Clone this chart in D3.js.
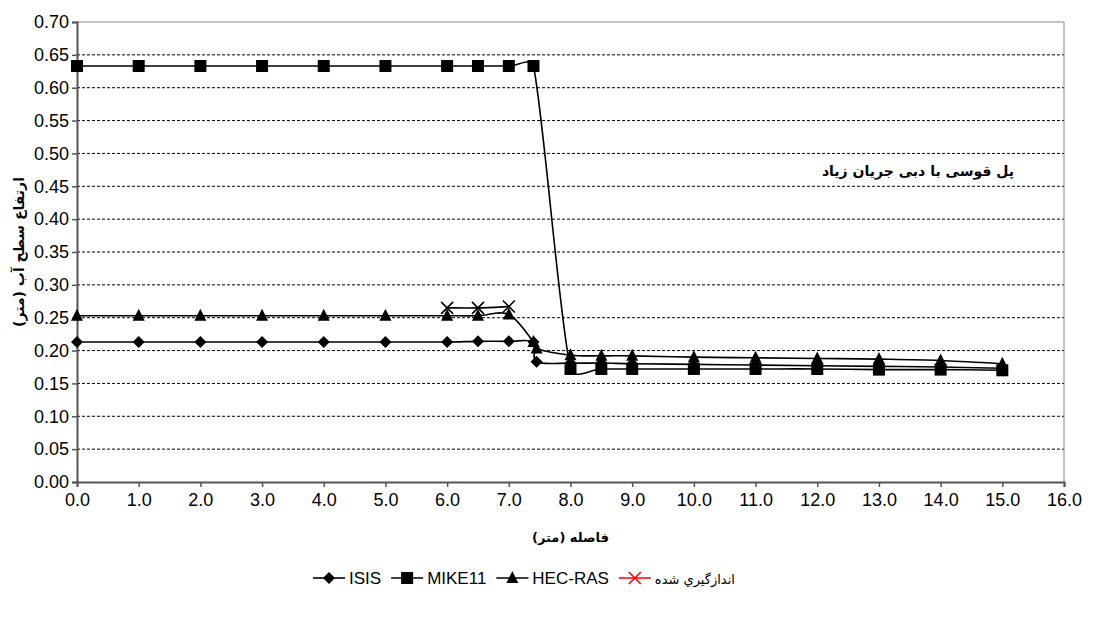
<!DOCTYPE html>
<html><head><meta charset="utf-8">
<script src="https://cdn.jsdelivr.net/npm/d3@7"></script>
<style>body{margin:0;background:#fff}</style>
</head><body>
<script>
const isisX = [0,1,2,3,4,5,6,6.5,7,7.4,7.45,8,8.5,9,10,11,12,13,14,15];
const isisY = [0.213,0.213,0.213,0.213,0.213,0.213,0.213,0.214,0.214,0.213,0.183,0.181,0.181,0.180,0.179,0.178,0.177,0.176,0.175,0.173];
const mikeX = [0,1,2,3,4,5,6,6.5,7,7.4,8,8.5,9,10,11,12,13,14,15];
const mikeY = [0.633,0.633,0.633,0.633,0.633,0.633,0.633,0.633,0.633,0.633,0.172,0.172,0.172,0.172,0.172,0.172,0.171,0.171,0.170];
const hecX = [0,1,2,3,4,5,6,6.5,7,7.4,7.45,8,8.5,9,10,11,12,13,14,15];
const hecY = [0.253,0.253,0.253,0.253,0.253,0.253,0.253,0.253,0.255,0.213,0.203,0.193,0.192,0.192,0.190,0.189,0.188,0.187,0.185,0.180];
const measX = [6,6.5,7];
const measY = [0.265,0.265,0.267];
const seriesNames = ["ISIS","MIKE11","HEC-RAS","اندازگيري شده"];
const xTicks = d3.range(0,16.01,1);
const yTicks = d3.range(0,0.7001,0.05);
const xTitle = "فاصله (متر)";
const yTitle = "ارتفاع سطح آب (متر)";
const note = "پل قوسی با دبی جریان زیاد";

const W=1093,H=619, L=77,R=1064,T=22,B=482;
const svg=d3.select("body").append("svg").attr("width",W).attr("height",H);
const x=d3.scaleLinear().domain([0,16]).range([L,R]);
const y=d3.scaleLinear().domain([0,0.7]).range([B,T]);
const latin="'Liberation Sans', Arial, sans-serif";
const pers="'DejaVu Sans', sans-serif";

svg.append("g").selectAll("line").data(yTicks.filter(v=>v>0.001&&v<0.699)).join("line")
 .attr("x1",L).attr("x2",R).attr("y1",d=>y(d)).attr("y2",d=>y(d))
 .attr("stroke","#000").attr("stroke-width",1).attr("stroke-dasharray","3,2");
svg.append("line").attr("x1",L).attr("x2",R).attr("y1",T).attr("y2",T).attr("stroke","#888");
svg.append("line").attr("x1",R).attr("x2",R).attr("y1",T).attr("y2",B).attr("stroke","#888");

const ya=svg.append("g").attr("transform",`translate(${L},0)`)
 .call(d3.axisLeft(y).tickValues(yTicks).tickFormat(d3.format(".2f")).tickSize(5).tickPadding(3));
const xa=svg.append("g").attr("transform",`translate(0,${B})`)
 .call(d3.axisBottom(x).tickValues(xTicks).tickFormat(d3.format(".1f")).tickSize(5).tickPadding(6));
[ya,xa].forEach(a=>{a.select(".domain").attr("stroke","#555").attr("stroke-width",2);
 a.selectAll(".tick line").attr("stroke","#555").attr("stroke-width",1.5);
 a.selectAll("text").attr("font-family",latin).attr("font-size",18).attr("fill","#000");});

function smooth(pts){
 const P=pts.map(p=>[x(p[0]),y(p[1])]);
 const path=d3.path(); path.moveTo(P[0][0],P[0][1]);
 const clamp=(v,len)=>{const l=Math.hypot(v[0],v[1]),m=len*0.4;return l>m&&l>0?[v[0]*m/l,v[1]*m/l]:v;};
 for(let i=0;i<P.length-1;i++){
  const p0=P[Math.max(i-1,0)],p1=P[i],p2=P[i+1],p3=P[Math.min(i+2,P.length-1)];
  const len=Math.hypot(p2[0]-p1[0],p2[1]-p1[1]);
  const t1=clamp([(p2[0]-p0[0])/6,(p2[1]-p0[1])/6],len);
  const t2=clamp([(p3[0]-p1[0])/6,(p3[1]-p1[1])/6],len);
  path.bezierCurveTo(p1[0]+t1[0],p1[1]+t1[1],p2[0]-t2[0],p2[1]-t2[1],p2[0],p2[1]);
 }
 return path.toString();
}
const zip=(a,b)=>a.map((v,i)=>[v,b[i]]);
const series=[
 {pts:zip(isisX,isisY),m:"diamond"},
 {pts:zip(mikeX,mikeY),m:"square"},
 {pts:zip(hecX,hecY),m:"triangle"},
 {pts:zip(measX,measY),m:"x"}];
series.forEach(s=>svg.append("path").attr("d",smooth(s.pts)).attr("fill","none").attr("stroke","#000").attr("stroke-width",1.6));

function marker(g,type,cx,cy,color){
 if(type==="diamond") g.append("path").attr("d",`M${cx},${cy-6}L${cx+6},${cy}L${cx},${cy+6}L${cx-6},${cy}Z`).attr("fill",color);
 else if(type==="square") g.append("rect").attr("x",cx-6).attr("y",cy-6).attr("width",12).attr("height",12).attr("fill",color);
 else if(type==="triangle") g.append("path").attr("d",`M${cx},${cy-7}L${cx+6},${cy+5}L${cx-6},${cy+5}Z`).attr("fill",color);
 else g.append("path").attr("d",`M${cx-6},${cy-6}L${cx+6},${cy+6}M${cx+6},${cy-6}L${cx-6},${cy+6}`).attr("stroke",color).attr("stroke-width",1.6);
}
const mg=svg.append("g");
series.forEach(s=>s.pts.forEach(p=>marker(mg,s.m,x(p[0]),y(p[1]),"#000")));

svg.append("text").attr("x",918).attr("y",176).attr("text-anchor","middle").attr("font-family",pers)
 .attr("font-weight","bold").attr("font-size",14).attr("direction","rtl").text(note);
svg.append("text").attr("x",(L+R)/2).attr("y",542).attr("text-anchor","middle").attr("font-family",pers)
 .attr("font-weight","bold").attr("font-size",13).attr("direction","rtl").text(xTitle);
svg.append("text").attr("transform",`translate(24,${(T+B)/2}) rotate(-90)`).attr("text-anchor","middle").attr("font-family",pers)
 .attr("font-weight","bold").attr("font-size",14).attr("direction","rtl").text(yTitle);

const lg=svg.append("g");
let lx=313; const ly=578;
const mtypes=["diamond","square","triangle","x"];
seriesNames.forEach((n,i)=>{
 const col=i===3?"#f00":"#000";
 lg.append("line").attr("x1",lx).attr("x2",lx+32).attr("y1",ly).attr("y2",ly).attr("stroke",col).attr("stroke-width",1.6);
 marker(lg,mtypes[i],lx+16,ly,col);
 const t=lg.append("text").attr("x",lx+36).attr("y",ly+6).attr("font-size",i===3?13:17)
  .attr("font-family",i===3?pers:latin).text(n);
 lx+=36+t.node().getComputedTextLength()+10;
});
</script>
</body></html>
